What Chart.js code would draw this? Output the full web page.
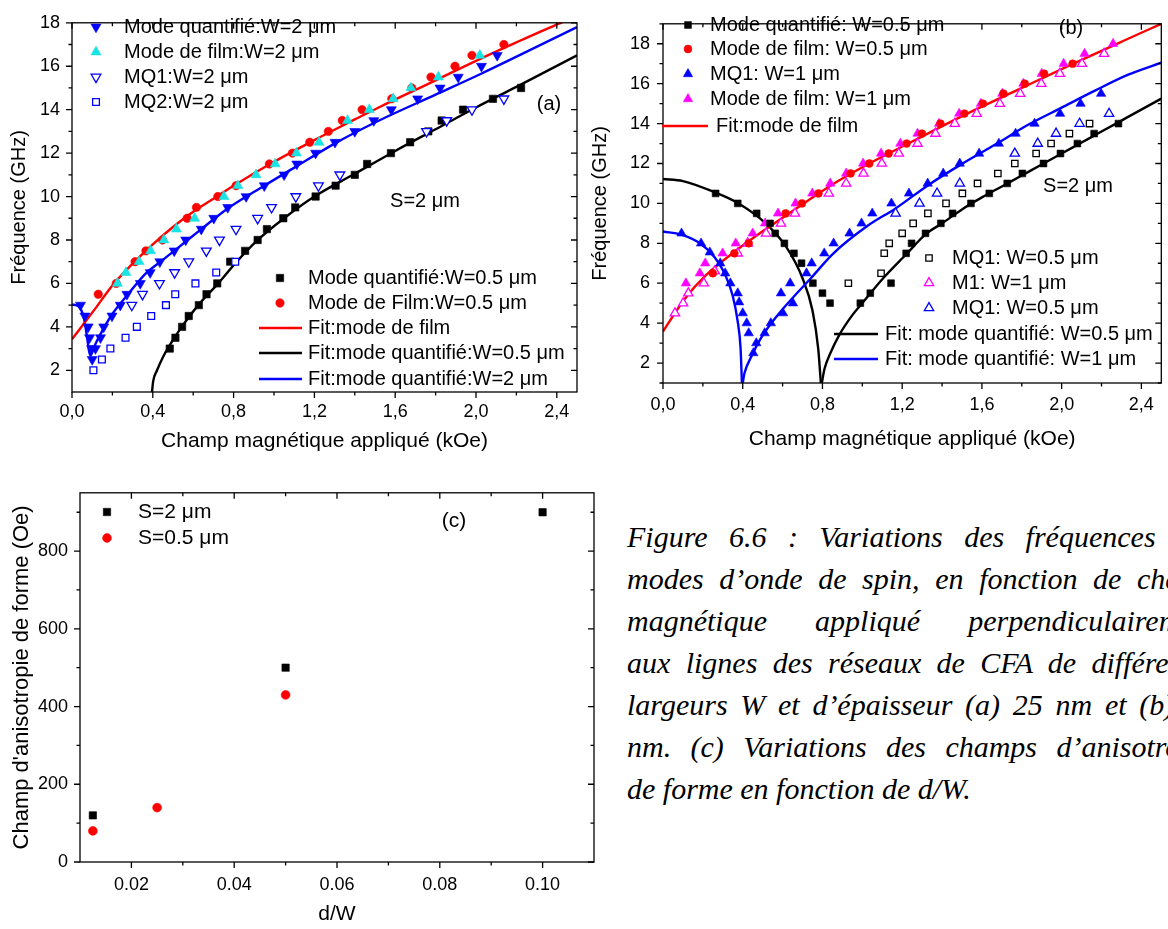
<!DOCTYPE html>
<html>
<head>
<meta charset="utf-8">
<script src="https://cdn.jsdelivr.net/npm/chart.js@4.4.1/dist/chart.umd.min.js"></script>
<style>
html, body { margin: 0; padding: 0; background: #fff; }
body { width: 1168px; height: 929px; position: relative; overflow: hidden; }
canvas { position: absolute; }
.cap { position: absolute; left: 627px; width: 590px; height: 42px; line-height: 42px;
       font: italic 30px 'Liberation Serif', 'Times New Roman', serif; color: #000;
       text-align: justify; text-align-last: justify; }
.cap.last { text-align-last: left; }
</style>
</head>
<body>
<canvas id="ca" width="585" height="458" style="left:0;top:0"></canvas>
<canvas id="cb" width="583" height="454" style="left:585px;top:0"></canvas>
<canvas id="cc" width="610" height="459" style="left:0;top:470px"></canvas>

<div class="cap" style="top:520px">Figure 6.6 : Variations des fréquences des</div>
<div class="cap" style="top:562px">modes d’onde de spin, en fonction de champ</div>
<div class="cap" style="top:604px">magnétique appliqué perpendiculairement</div>
<div class="cap" style="top:646px">aux lignes des réseaux de CFA de différentes</div>
<div class="cap" style="top:688px">largeurs W et d’épaisseur (a) 25 nm et (b) 50</div>
<div class="cap" style="top:730px">nm. (c) Variations des champs d’anisotropie</div>
<div class="cap last" style="top:772px">de forme en fonction de d/W.</div>

<script>
// ---- axis ticks ----
const xTicksAB = [0, 0.4, 0.8, 1.2, 1.6, 2.0, 2.4];
const xMinorAB = [0.2, 0.6, 1.0, 1.4, 1.8, 2.2];
const yTicksAB = [2, 4, 6, 8, 10, 12, 14, 16, 18];
const yMinorAB = [3, 5, 7, 9, 11, 13, 15, 17];
const xTicksC = [0.02, 0.04, 0.06, 0.08, 0.10];
const xMinorC = [0.03, 0.05, 0.07, 0.09];
const yTicksC = [0, 200, 400, 600, 800];
const yMinorC = [100, 300, 500, 700, 900];

// ---- panel (a) : [champ kOe, fréquence GHz] ----
const aQuantW2 = [[0.042,5.0],[0.064,4.5],[0.080,4.0],[0.087,3.5],[0.097,3.0],[0.100,2.5],[0.116,3.0],[0.141,3.5],[0.157,4.0],[0.198,4.5],[0.239,5.0],[0.272,5.5],[0.338,6.0],[0.387,6.5],[0.435,7.0],[0.506,7.5],[0.563,8.0],[0.640,8.5],[0.702,9.0],[0.771,9.5],[0.862,10.0],[0.952,10.5],[1.050,11.0],[1.113,11.5],[1.206,12.0],[1.302,12.5],[1.400,13.0],[1.494,13.5],[1.581,14.0],[1.711,14.5],[1.822,15.0],[1.912,15.5],[2.027,16.0],[2.105,16.5]];
const aFilmW2 = [[0.225,6.0],[0.267,6.5],[0.332,7.0],[0.389,7.5],[0.455,8.0],[0.517,8.5],[0.607,9.0],[0.752,10.0],[0.821,10.5],[0.911,11.0],[1.006,11.5],[1.111,12.0],[1.223,12.5],[1.364,13.5],[1.472,14.0],[1.590,14.5],[1.678,15.0],[1.814,15.5],[2.019,16.5]];
const aMQ1W2 = [[0.296,5.0],[0.349,5.5],[0.433,6.0],[0.508,6.5],[0.578,7.0],[0.665,7.5],[0.730,8.0],[0.812,8.5],[0.919,9.0],[0.988,9.5],[1.108,10.0],[1.220,10.5],[1.326,11.0],[1.755,13.0],[1.855,13.5],[1.980,14.0],[2.138,14.5]];
const aMQ2W2 = [[0.106,2.0],[0.148,2.5],[0.190,3.0],[0.265,3.5],[0.321,4.0],[0.392,4.5],[0.465,5.0],[0.511,5.5],[0.611,6.0],[0.714,6.5],[0.808,7.0]];
const aQuantW05 = [[0.484,3.0],[0.512,3.5],[0.545,4.0],[0.578,4.5],[0.628,5.0],[0.666,5.5],[0.719,6.0],[0.783,7.0],[0.857,7.5],[0.919,8.0],[0.965,8.5],[1.046,9.0],[1.105,9.5],[1.206,10.0],[1.305,10.5],[1.400,11.0],[1.461,11.5],[1.579,12.0],[1.674,12.5],[1.764,13.0],[1.830,13.5],[1.936,14.0],[2.084,14.5],[2.223,15.0]];
const aFilmW05 = [[0.130,5.5],[0.219,6.0],[0.312,7.0],[0.366,7.5],[0.448,8.0],[0.570,9.0],[0.616,9.5],[0.722,10.0],[0.812,10.5],[0.977,11.5],[1.091,12.0],[1.177,12.5],[1.269,13.0],[1.338,13.5],[1.436,14.0],[1.583,14.5],[1.682,15.0],[1.777,15.5],[1.896,16.0],[1.980,16.5],[2.138,17.0]];
const aFitFilm = [[0,3.43],[0.116,4.85],[0.198,5.88],[0.297,6.88],[0.4,7.8],[0.5,8.6],[0.6,9.3],[0.7,9.9],[0.8,10.5],[1.0,11.6],[1.2,12.6],[1.4,13.55],[1.518,14.1],[1.8,15.35],[2.0,16.25],[2.2,17.1],[2.42,18.0],[2.5,18.3]];
const aFitQuantW05 = [[0.396,1.0],[0.402,1.5],[0.421,2.0],[0.45,2.6],[0.48,3.1],[0.543,4.0],[0.625,5.0],[0.724,6.0],[0.806,6.9],[0.92,8.0],[1.05,9.0],[1.2,10.0],[1.4,11.05],[1.6,12.1],[1.8,13.1],[2.0,14.1],[2.2,15.05],[2.5,16.5]];
const aFitQuantW2 = [[0,5.03],[0.034,4.93],[0.059,4.4],[0.075,3.5],[0.084,2.9],[0.092,2.68],[0.108,3.05],[0.149,3.8],[0.198,4.57],[0.28,5.53],[0.362,6.43],[0.445,7.05],[0.506,7.5],[0.640,8.5],[0.771,9.45],[0.952,10.5],[1.113,11.4],[1.302,12.45],[1.518,13.49],[1.8,14.69],[2.02,15.63],[2.5,17.8]];

// ---- panel (b) ----
const bQuantW05 = [[0.264,10.5],[0.375,10.0],[0.47,9.5],[0.537,9.0],[0.563,8.5],[0.609,8.0],[0.657,7.5],[0.695,7.0],[0.752,6.0],[0.8,5.5],[0.838,5.0],[0.99,5.0],[1.04,5.5],[1.144,6.0],[1.22,7.5],[1.247,8.0],[1.317,8.5],[1.394,9.0],[1.453,9.5],[1.545,10.0],[1.637,10.5],[1.727,11.0],[1.803,11.5],[1.909,12.0],[1.994,12.5],[2.079,13.0],[2.163,13.5],[2.285,14.0]];
const bFilmW05 = [[0.25,6.5],[0.358,7.5],[0.43,8.0],[0.615,9.5],[0.697,10.0],[0.78,10.5],[0.941,11.5],[1.035,12.0],[1.132,12.5],[1.222,13.0],[1.299,13.5],[1.392,14.0],[1.512,14.5],[1.605,15.0],[1.708,15.5],[1.815,16.0],[1.912,16.5],[2.055,17.0]];
const bMQ1W1 = [[0.093,8.5],[0.191,8.0],[0.235,7.55],[0.287,7.0],[0.312,6.5],[0.338,6.0],[0.375,5.5],[0.382,5.05],[0.4,4.5],[0.42,4.0],[0.43,3.5],[0.453,2.5],[0.468,3.0],[0.51,3.5],[0.541,4.0],[0.602,4.5],[0.652,5.0],[0.592,5.5],[0.638,6.0],[0.72,6.5],[0.746,7.0],[0.809,7.5],[0.856,8.0],[0.936,8.5],[0.996,9.0],[1.05,9.5],[1.146,10.0],[1.234,10.5],[1.328,11.0],[1.406,11.5],[1.489,12.0],[1.586,12.5],[1.685,13.0],[1.769,13.5],[1.864,14.0],[1.992,14.5],[2.095,15.0],[2.198,15.5]];
const bFilmW1 = [[0.115,6.0],[0.185,6.5],[0.212,7.0],[0.299,7.5],[0.365,8.0],[0.45,8.5],[0.512,9.0],[0.577,9.5],[0.665,10.0],[0.749,10.5],[0.839,11.0],[0.919,11.5],[1.004,12.0],[1.094,12.5],[1.191,13.0],[1.277,13.5],[1.385,14.0],[1.486,14.5],[1.595,15.0],[1.702,15.5],[1.808,16.0],[1.9,16.5],[2.01,17.0],[2.115,17.5],[2.258,18.0]];
const bM1W1 = [[0.06,4.5],[0.101,5.0],[0.127,5.5],[0.205,6.0],[0.26,6.6],[0.375,7.5],[0.425,8.0],[0.517,8.5],[0.592,9.0],[0.662,9.5],[0.832,10.5],[0.919,11.0],[1.006,11.5],[1.098,12.0],[1.183,12.5],[1.277,13.0],[1.367,13.5],[1.464,14.0],[1.574,14.5],[1.69,15.0],[1.792,15.5],[1.898,16.0],[1.991,16.5],[2.102,17.0],[2.213,17.5]];
const bMQ1W05 = [[0.93,6.0],[1.094,6.5],[1.11,7.5],[1.135,8.0],[1.2,8.5],[1.255,9.0],[1.329,9.5],[1.42,10.0],[1.502,10.5],[1.578,11.0],[1.68,11.5],[1.765,12.0],[1.872,12.5],[1.947,13.0],[2.039,13.5],[2.14,14.0]];
const bMQ1W05b = [[1.167,9.5],[1.287,10.0],[1.375,10.5],[1.489,11.0],[1.765,12.5],[1.88,13.0],[1.972,13.5],[2.09,14.0],[2.238,14.5]];
const bFitFilm = [[0,3.58],[0.108,5.2],[0.208,6.33],[0.375,7.7],[0.5,8.6],[0.625,9.45],[0.858,11.0],[1.035,12.0],[1.25,13.1],[1.506,14.4],[1.75,15.55],[2.048,16.95],[2.3,18.1],[2.5,19.0]];
const bFitQuantW05Arc = [[0,11.22],[0.1,11.12],[0.259,10.56],[0.375,10.02],[0.512,9.03],[0.615,7.87],[0.7,6.25],[0.75,4.63],[0.779,2.7],[0.792,1.0]];
const bFitQuantW05 = [[0.797,1.0],[0.81,1.7],[0.84,2.5],[0.884,3.4],[0.95,4.4],[1.0,5.0],[1.1,6.2],[1.225,7.5],[1.317,8.45],[1.4,9.0],[1.5,9.7],[1.6,10.3],[1.7,10.85],[1.8,11.4],[1.9,11.95],[2.0,12.5],[2.1,13.05],[2.2,13.6],[2.3,14.15],[2.5,15.25]];
const bFitQuantW1Arc = [[0,8.59],[0.092,8.43],[0.192,7.95],[0.259,7.3],[0.309,6.49],[0.35,5.36],[0.375,4.07],[0.389,2.77],[0.396,1.0]];
const bFitQuantW1 = [[0.4,1.0],[0.409,1.5],[0.442,2.3],[0.492,3.26],[0.575,4.4],[0.659,5.36],[0.742,6.25],[0.85,7.45],[1.03,8.9],[1.167,9.75],[1.334,10.94],[1.5,11.98],[1.667,12.95],[1.834,13.95],[2.0,14.8],[2.167,15.65],[2.334,16.45],[2.5,17.05]];

// ---- panel (c) : [d/W, champ d'anisotropie Oe] ----
const cS2 = [[0.0125,120],[0.05,500],[0.10,900]];
const cS05 = [[0.0125,80],[0.025,140],[0.05,430]];

const FONT = 'Liberation Sans';
Chart.defaults.font.family = FONT;
Chart.defaults.color = '#000';

function sym(label, data, style, color, r, open, rot) {
    return {
        label: label,
        data: data.map(p => ({x: p[0], y: p[1]})),
        showLine: false,
        pointStyle: style,
        pointRadius: r,
        pointHoverRadius: r,
        pointRotation: rot || 0,
        pointBackgroundColor: open ? '#fff' : color,
        pointBorderColor: color,
        pointBorderWidth: open ? 1.3 : 0.6,
        backgroundColor: color,
        borderColor: color,
        order: 0
    };
}

function fit(label, data, color) {
    return {
        label: label,
        data: data.map(p => ({x: p[0], y: p[1]})),
        showLine: true,
        borderColor: color,
        borderWidth: 2.4,
        pointRadius: 0,
        pointHoverRadius: 0,
        cubicInterpolationMode: 'monotone',
        fill: false,
        order: 1
    };
}

function scales(o) {
    return {
        x: {
            type: 'linear', min: o.xr[0], max: o.xr[1],
            afterBuildTicks: s => { s.ticks = o.xt.map(v => ({value: v})); },
            afterFit: s => { s.height = o.xh; },
            grid: {display: false, drawTicks: false},
            border: {display: false},
            ticks: {autoSkip: false, maxRotation: 0, padding: o.xpad, font: {size: 18}, callback: o.xf},
            title: {display: true, text: o.xtitle, font: {size: 21}, padding: {top: 0, bottom: o.xtp}}
        },
        y: {
            type: 'linear', min: o.yr[0], max: o.yr[1],
            afterBuildTicks: s => { s.ticks = o.yt.map(v => ({value: v})); },
            afterFit: s => { s.width = o.yw; },
            grid: {display: false, drawTicks: false},
            border: {display: false},
            ticks: {autoSkip: false, padding: o.ypad, font: {size: 18}, callback: v => String(v)},
            title: {display: true, text: o.ytitle, font: {size: o.ytsize}, padding: {top: o.ytp, bottom: 0}}
        }
    };
}

// cadre + graduations (grandes et petites), vers l'extérieur en bas/à gauche, vers l'intérieur en haut/à droite
const frame = {
    id: 'frame',
    afterDatasetsDraw(chart, args, o) {
        const ctx = chart.ctx, a = chart.chartArea, sx = chart.scales.x, sy = chart.scales.y;
        ctx.save();
        ctx.strokeStyle = '#000';
        ctx.lineWidth = 1.3;
        ctx.beginPath();
        const mark = (vals, len, horiz) => vals.forEach(v => {
            if (horiz) {
                const p = sx.getPixelForValue(v);
                ctx.moveTo(p, a.bottom); ctx.lineTo(p, a.bottom + len);
                ctx.moveTo(p, a.top); ctx.lineTo(p, a.top + len);
            } else {
                const p = sy.getPixelForValue(v);
                ctx.moveTo(a.left - len, p); ctx.lineTo(a.left, p);
                ctx.moveTo(a.right, p); ctx.lineTo(a.right - len, p);
            }
        });
        mark(o.xMajor, 6, true); mark(o.xMinor, 3.5, true);
        mark(o.yMajor, 6, false); mark(o.yMinor, 3.5, false);
        ctx.stroke();
        ctx.strokeRect(a.left, a.top, a.right - a.left, a.bottom - a.top);
        ctx.restore();
    }
};

// légendes en plusieurs blocs + textes libres
const notes = {
    id: 'notes',
    afterDraw(chart, args, o) {
        const ctx = chart.ctx;
        ctx.save();
        ctx.font = o.font;
        ctx.textBaseline = 'middle';
        (o.groups || []).forEach(g => {
            g.rows.forEach(r => {
                const ds = chart.data.datasets[r[0]], y = r[1];
                if (ds.showLine) {
                    ctx.strokeStyle = ds.borderColor;
                    ctx.lineWidth = ds.borderWidth;
                    ctx.beginPath(); ctx.moveTo(g.x0, y); ctx.lineTo(g.x1, y); ctx.stroke();
                } else {
                    ctx.fillStyle = ds.pointBackgroundColor;
                    ctx.strokeStyle = ds.pointBorderColor;
                    ctx.lineWidth = ds.pointBorderWidth;
                    Chart.helpers.drawPoint(ctx, {pointStyle: ds.pointStyle, radius: ds.pointRadius,
                        rotation: ds.pointRotation, borderWidth: ds.pointBorderWidth}, g.sx, y);
                }
                ctx.fillStyle = '#000';
                ctx.textAlign = 'left';
                ctx.fillText(ds.label, g.tx, y);
            });
        });
        (o.texts || []).forEach(t => {
            ctx.fillStyle = '#000';
            ctx.textAlign = 'center';
            ctx.fillText(t[0], t[1], t[2]);
        });
        ctx.restore();
    }
};

const fmtComma = v => v.toFixed(1).replace('.', ',');
const BLUE = '#0000ff', RED = '#ff0000', CYAN = '#19e3e3', MAG = '#ff00ff', BLACK = '#000000';

// ---------- (a) ----------
new Chart(document.getElementById('ca'), {
    type: 'scatter',
    data: {
        datasets: [
            sym('Mode quantifié:W=2 μm', aQuantW2, 'triangle', BLUE, 5.8, false, 180),
            sym('Mode de film:W=2 μm', aFilmW2, 'triangle', CYAN, 5.8, false, 0),
            sym('MQ1:W=2 μm', aMQ1W2, 'triangle', BLUE, 5.6, true, 180),
            sym('MQ2:W=2 μm', aMQ2W2, 'rect', BLUE, 4.8, true),
            sym('Mode quantifié:W=0.5 μm', aQuantW05, 'rect', BLACK, 5.2, false),
            sym('Mode de Film:W=0.5 μm', aFilmW05, 'circle', RED, 4.2, false),
            fit('Fit:mode de film', aFitFilm, RED),
            fit('Fit:mode quantifié:W=0.5 μm', aFitQuantW05, BLACK),
            fit('Fit:mode quantifié:W=2 μm', aFitQuantW2, BLUE)
        ]
    },
    options: {
        responsive: false, animation: false,
        layout: {padding: {top: 14, right: 8, left: 0, bottom: 0}},
        plugins: {
            legend: {display: false}, tooltip: {enabled: false},
            frame: {xMajor: xTicksAB, xMinor: xMinorAB, yMajor: yTicksAB, yMinor: yMinorAB},
            notes: {
                font: '20px ' + FONT,
                groups: [
                    {sx: 96, tx: 124, rows: [[0, 27], [1, 52], [2, 77], [3, 102]]},
                    {sx: 280, tx: 308, x0: 259, x1: 302, rows: [[4, 278], [5, 303], [6, 328], [7, 353], [8, 379]]}
                ],
                texts: [['(a)', 549, 104], ['S=2 μm', 425, 201]]
            }
        },
        scales: scales({xr: [0, 2.5], xt: xTicksAB, xh: 66, xpad: 9, xf: fmtComma,
            xtitle: 'Champ magnétique appliqué (kOe)', xtp: 4,
            yr: [1, 18], yt: yTicksAB, yw: 72, ypad: 12, ytitle: 'Fréquence (GHz)', ytsize: 20, ytp: 7})
    },
    plugins: [frame, notes]
});

// ---------- (b) ----------
new Chart(document.getElementById('cb'), {
    type: 'scatter',
    data: {
        datasets: [
            sym('Mode quantifié: W=0.5 μm', bQuantW05, 'rect', BLACK, 4.8, false),
            sym('Mode de film: W=0.5 μm', bFilmW05, 'circle', RED, 3.9, false),
            sym('MQ1: W=1 μm', bMQ1W1, 'triangle', BLUE, 5.4, false, 0),
            sym('Mode de film: W=1 μm', bFilmW1, 'triangle', MAG, 5.4, false, 0),
            fit('Fit:mode de film', bFitFilm, RED),
            sym('MQ1: W=0.5 μm', bMQ1W05, 'rect', BLACK, 4.5, true),
            sym('M1: W=1 μm', bM1W1, 'triangle', MAG, 5.4, true, 0),
            sym('MQ1: W=0.5 μm', bMQ1W05b, 'triangle', BLUE, 5.4, true, 0),
            fit('Fit: mode quantifié: W=0.5 μm', bFitQuantW05, BLACK),
            fit('Fit: mode quantifié: W=1 μm', bFitQuantW1, BLUE),
            fit('', bFitQuantW05Arc, BLACK),
            fit('', bFitQuantW1Arc, BLUE)
        ]
    },
    options: {
        responsive: false, animation: false,
        layout: {padding: {top: 12, right: 5, left: 0, bottom: 0}},
        plugins: {
            legend: {display: false}, tooltip: {enabled: false},
            frame: {xMajor: xTicksAB, xMinor: xMinorAB, yMajor: yTicksAB, yMinor: yMinorAB.concat([1, 19])},
            notes: {
                font: '20px ' + FONT,
                groups: [
                    {sx: 103, tx: 125, rows: [[0, 25], [1, 49], [2, 74], [3, 99]]},
                    {x0: 77, x1: 123, tx: 131, rows: [[4, 126]]},
                    {sx: 344, tx: 367, rows: [[5, 258], [6, 283], [7, 308]]},
                    {x0: 249, x1: 293, tx: 300, rows: [[8, 334], [9, 359]]}
                ],
                texts: [['(b)', 486, 28], ['S=2 μm', 493, 186]]
            }
        },
        scales: scales({xr: [0, 2.5], xt: xTicksAB, xh: 71, xpad: 11, xf: fmtComma,
            xtitle: 'Champ magnétique appliqué (kOe)', xtp: 2,
            yr: [1, 19], yt: yTicksAB, yw: 78, ypad: 13, ytitle: 'Fréquence (GHz)', ytsize: 20, ytp: 3})
    },
    plugins: [frame, notes]
});

// ---------- (c) ----------
new Chart(document.getElementById('cc'), {
    type: 'scatter',
    data: {
        datasets: [
            sym('S=2 μm', cS2, 'rect', BLACK, 5.2, false),
            sym('S=0.5 μm', cS05, 'circle', RED, 4.4, false)
        ]
    },
    options: {
        responsive: false, animation: false,
        layout: {padding: {top: 22, right: 16, left: 0, bottom: 0}},
        plugins: {
            legend: {display: false}, tooltip: {enabled: false},
            frame: {xMajor: xTicksC, xMinor: xMinorC, yMajor: yTicksC, yMinor: yMinorC},
            notes: {
                font: '21px ' + FONT,
                groups: [{sx: 107, tx: 138, rows: [[0, 42], [1, 68]]}],
                texts: [['(c)', 454, 51]]
            }
        },
        scales: scales({xr: [0.01, 0.11], xt: xTicksC, xh: 67, xpad: 12, xf: v => v.toFixed(2),
            xtitle: 'd/W', xtp: 2,
            yr: [0, 950], yt: yTicksC, yw: 80, ypad: 12, ytitle: 'Champ d\'anisotropie de forme (Oe)', ytsize: 22, ytp: 9})
    },
    plugins: [frame, notes]
});
</script>
</body>
</html>
